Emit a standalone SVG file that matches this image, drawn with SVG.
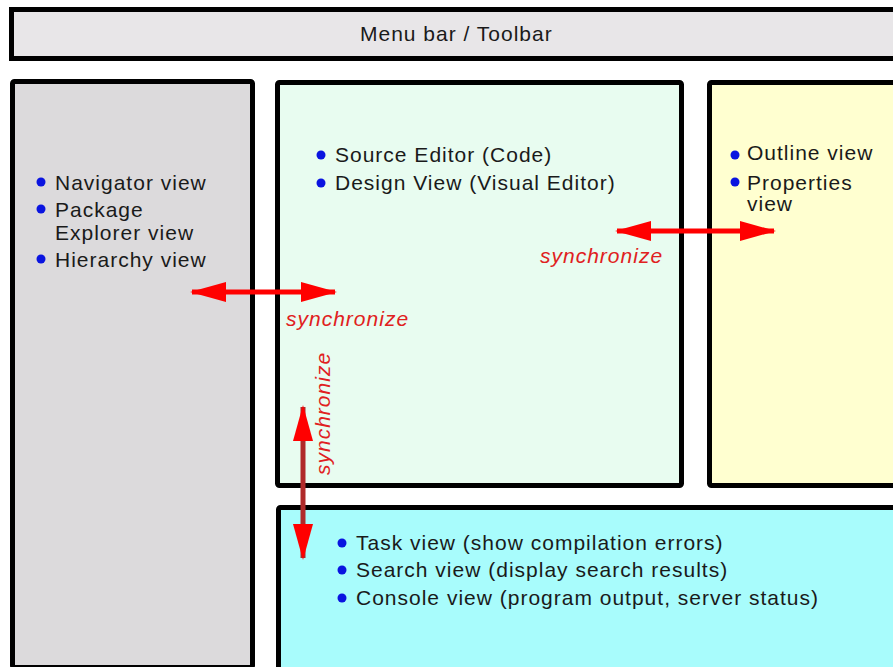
<svg xmlns="http://www.w3.org/2000/svg" width="893" height="667" viewBox="0 0 893 667">
  <style>
    .box { stroke: #000; stroke-width: 5; }
    .t { font-family: "Liberation Sans", Arial, sans-serif; font-size: 21px; letter-spacing: 1px; fill: #1a1a1a; }
    .sync { font-family: "Liberation Sans", Arial, sans-serif; font-size: 21px; letter-spacing: 1px; font-style: italic; fill: #e02020; }
    .bul { fill: #0a14e0; }
    .arr { stroke: #ff0000; stroke-width: 5; fill: none; marker-start: url(#head); marker-end: url(#head); }
  </style>
  <defs>
    <marker id="head" markerUnits="userSpaceOnUse" markerWidth="36" markerHeight="22" refX="34" refY="11" orient="auto-start-reverse" overflow="visible">
      <path d="M0,1 L36,11 L0,21 Z" fill="#ff0000"/>
    </marker>
  </defs>
  <rect width="893" height="667" fill="#ffffff"/>

  <g id="menubar">
    <rect class="box" x="11.5" y="9.5" width="900" height="49" fill="#e8e6e8"/>
    <text class="t" x="360" y="41">Menu bar / Toolbar</text>
  </g>

  <g id="left-views">
    <rect class="box" x="12.5" y="81.5" width="240" height="586" rx="2" fill="#dcdadc"/>
    <circle class="bul" cx="41" cy="182" r="4.5"/>
    <text class="t" x="55" y="190">Navigator view</text>
    <circle class="bul" cx="41" cy="209" r="4.5"/>
    <text class="t" x="55" y="217">Package</text>
    <text class="t" x="55" y="240">Explorer view</text>
    <circle class="bul" cx="41" cy="259" r="4.5"/>
    <text class="t" x="55" y="267">Hierarchy view</text>
  </g>

  <g id="editor">
    <rect class="box" x="277.5" y="82.5" width="404" height="403" rx="2" fill="#e8fcf0"/>
    <circle class="bul" cx="321" cy="155" r="4.5"/>
    <text class="t" x="335" y="162">Source Editor (Code)</text>
    <circle class="bul" cx="321" cy="183" r="4.5"/>
    <text class="t" x="335" y="190">Design View (Visual Editor)</text>
  </g>

  <g id="outline">
    <rect class="box" x="709.5" y="82.5" width="250" height="403" rx="2" fill="#ffffd0"/>
    <circle class="bul" cx="735" cy="155" r="4.5"/>
    <text class="t" x="747" y="160">Outline view</text>
    <circle class="bul" cx="735" cy="182" r="4.5"/>
    <text class="t" x="747" y="190">Properties</text>
    <text class="t" x="747" y="211">view</text>
  </g>

  <g id="console">
    <rect class="box" x="278.5" y="507.5" width="700" height="170" rx="2" fill="#a8fcfc"/>
    <circle class="bul" cx="342" cy="543" r="4.5"/>
    <text class="t" x="356" y="550">Task view (show compilation errors)</text>
    <circle class="bul" cx="342" cy="570" r="4.5"/>
    <text class="t" x="356" y="577">Search view (display search results)</text>
    <circle class="bul" cx="342" cy="598" r="4.5"/>
    <text class="t" x="356" y="605">Console view (program output, server status)</text>
  </g>

  <g id="connectors">
    <line class="arr" x1="192" y1="292" x2="335" y2="292"/>
    <line class="arr" x1="617" y1="231" x2="774" y2="231"/>
    <line class="arr" x1="303" y1="407" x2="303" y2="558" style="stroke:#b02a2a"/>
    <text class="sync" x="286" y="326">synchronize</text>
    <text class="sync" x="540" y="263">synchronize</text>
    <text class="sync" x="330" y="475" transform="rotate(-90 330 475)">synchronize</text>
  </g>
</svg>
